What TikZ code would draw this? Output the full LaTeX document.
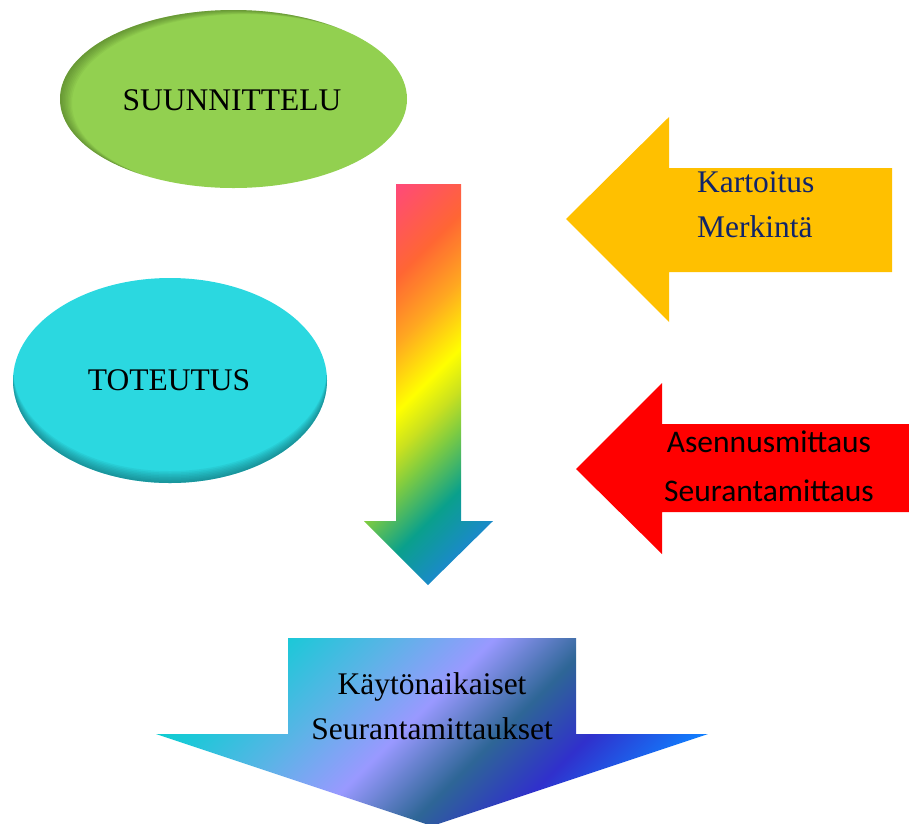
\documentclass[tikz,border=0pt]{standalone}
\usepackage{fontspec}
\setmainfont{Liberation Serif}
\newfontfamily\carlitofont{Carlito}
\definecolor{sgreen}{HTML}{92D050}
\definecolor{sgreendark}{HTML}{2E4A14}
\definecolor{scyan}{HTML}{2BD8E0}
\definecolor{scyandark}{HTML}{0A4A50}
\definecolor{sgold}{HTML}{FFC000}
\definecolor{sred}{HTML}{FF0000}
\definecolor{snavy}{HTML}{10246A}
\definecolor{rbA}{HTML}{1A8AC8}
\definecolor{rbB}{HTML}{0AA08C}
\definecolor{rbC}{HTML}{80CC40}
\definecolor{rbD}{HTML}{C8E020}
\definecolor{rbE}{HTML}{FFFF00}
\definecolor{rbF}{HTML}{FFA820}
\definecolor{rbG}{HTML}{FF6633}
\definecolor{rbH}{HTML}{FF4A78}
\definecolor{bbA}{HTML}{1080FF}
\definecolor{bbB}{HTML}{3030CC}
\definecolor{bbC}{HTML}{2E6696}
\definecolor{bbD}{HTML}{9999FF}
\definecolor{bbE}{HTML}{5AB4E6}
\definecolor{bbF}{HTML}{1CC8D8}
\definecolor{bbG}{HTML}{10CCD0}
\pgfdeclareverticalshading{rainbowsh}{100bp}{color(0bp)=(rbA); color(32.3bp)=(rbA); color(37.9bp)=(rbB); color(43.5bp)=(rbC); color(46.7bp)=(rbD); color(50.4bp)=(rbE); color(56.4bp)=(rbF); color(62.3bp)=(rbG); color(70.4bp)=(rbH); color(100bp)=(rbH)}
\pgfdeclareverticalshading{bluesh}{100bp}{color(0bp)=(bbA); color(32.2bp)=(bbA); color(39.6bp)=(bbB); color(45.5bp)=(bbC); color(52bp)=(bbD); color(58.6bp)=(bbE); color(65.2bp)=(bbF); color(67.5bp)=(bbG); color(100bp)=(bbG)}
\tikzset{
  serif/.style={inner sep=0pt, font=\fontsize{31.5}{36}\selectfont},
  sans/.style={inner sep=0pt, font=\carlitofont\fontsize{31.5}{36}\selectfont},
}
\begin{document}
\begin{tikzpicture}[x=1pt,y=-1pt]
\useasboundingbox (0,0) rectangle (909,823);

% SUUNNITTELU ellipse
\fill[sgreen] (233.5,99) ellipse [x radius=173.5, y radius=89];
\begin{scope}
  \clip (233.5,99) ellipse [x radius=173.5, y radius=89];
  \foreach \d in {1.5,3,...,12} {
    \fill[sgreendark, opacity=0.06, even odd rule] (0,0) rectangle (909,823)
      (233.5+\d,99+0.35*\d) ellipse [x radius=173.5, y radius=89];
  }
\end{scope}

% TOTEUTUS ellipse
\fill[scyan] (170,380.5) ellipse [x radius=157, y radius=102.5];
\begin{scope}
  \clip (170,380.5) ellipse [x radius=157, y radius=102.5];
  \foreach \d in {1.5,3,...,12} {
    \fill[scyandark, opacity=0.07, even odd rule] (0,0) rectangle (909,823)
      (170,380.5-\d) ellipse [x radius=157, y radius=102.5];
  }
\end{scope}

% rainbow down arrow
\begin{scope}
  \clip (396,184) -- (461,184) -- (461,521) -- (493,521) -- (428,585) -- (364,521) -- (396,521) -- cycle;
  \shade[shading=rainbowsh, shading angle=45] (228,184) rectangle (629,585);
\end{scope}

% yellow left arrow
\fill[sgold] (566,219) -- (669,117) -- (669,168) -- (892,168) -- (892,272) -- (669,272) -- (669,322) -- cycle;

% red left arrow
\fill[sred] (576,469) -- (662,383) -- (662,424) -- (912,424) -- (912,512) -- (662,512) -- (662,554) -- cycle;

% bottom blue arrow
\begin{scope}
  \clip (288,638) -- (576,638) -- (576,734) -- (708,734) -- (432,826) -- (156,734) -- (288,734) -- cycle;
  \shade[shading=bluesh, shading angle=45] (156,456) rectangle (708,1008);
\end{scope}

% texts
\node[serif, anchor=base] (suun) at (232,110) {SUUNNITTELU};
\node[serif, anchor=base] (tote) at (169,390) {TOTEUTUS};
\node[serif, anchor=base west, text=snavy] (kart) at (697,192) {Kartoitus};
\node[serif, anchor=base west, text=snavy] (merk) at (697,237) {Merkintä};
\node[sans, anchor=base] (asen) at (769,452) {Asennusmittaus};
\node[sans, anchor=base] (seur) at (769,501) {Seurantamittaus};
\node[serif, anchor=base] (kayt) at (432,694) {Käytönaikaiset};
\node[serif, anchor=base] (seuk) at (432,739) {Seurantamittaukset};
\end{tikzpicture}
\end{document}
